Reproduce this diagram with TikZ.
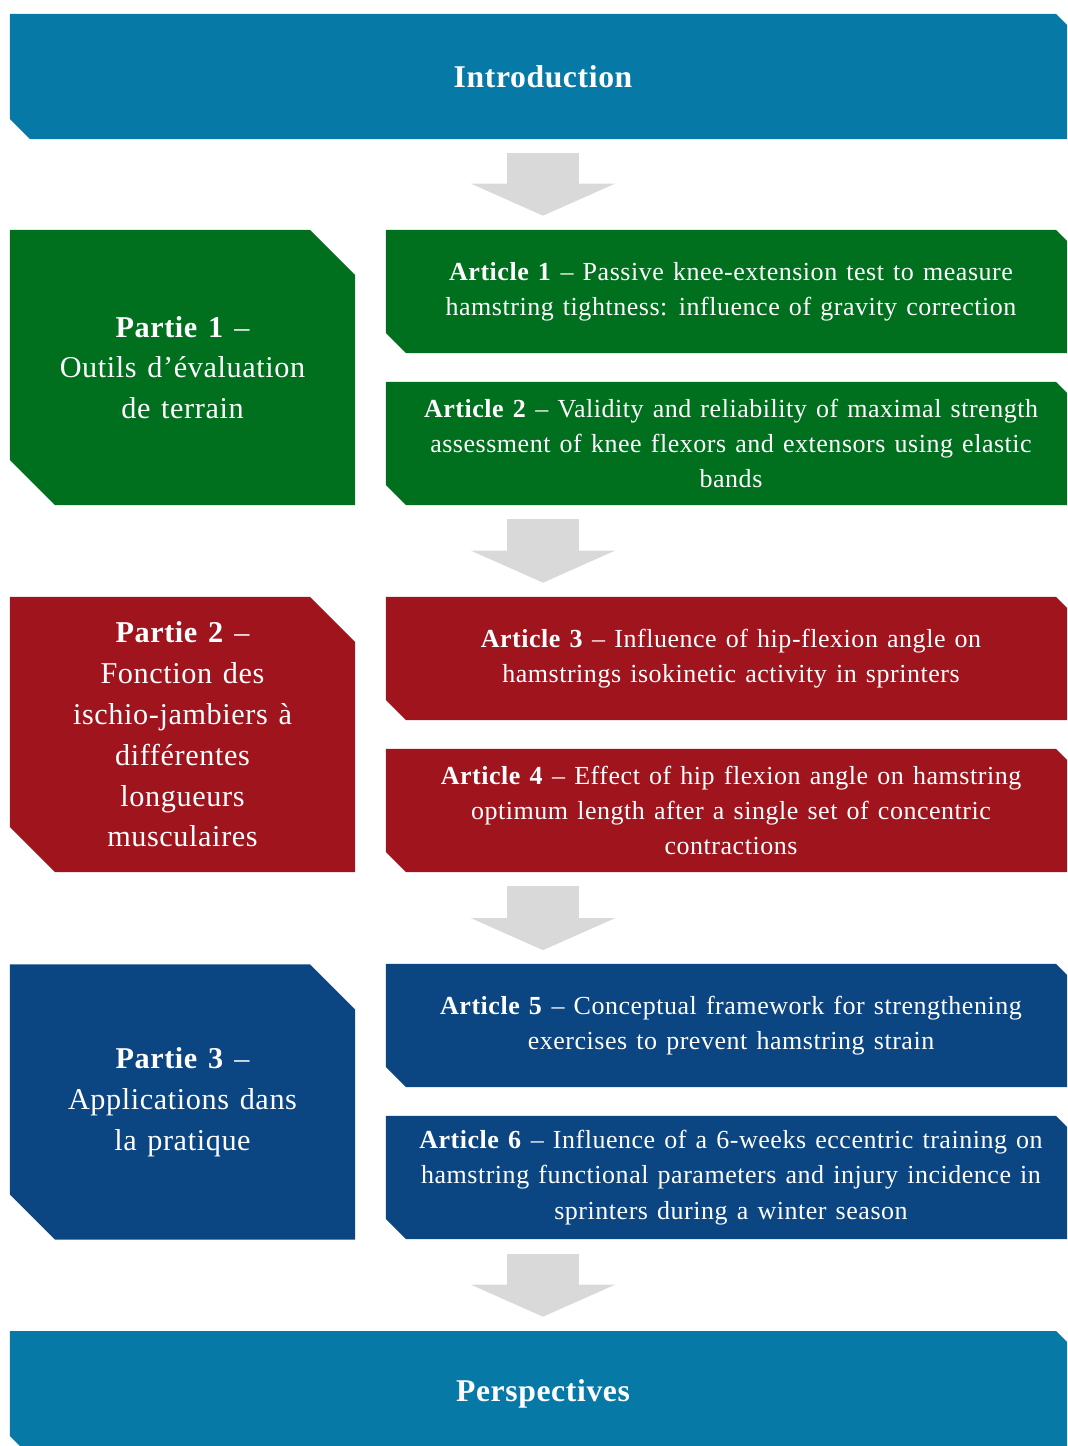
\documentclass[tikz,border=0pt]{standalone}
\usepackage{fontspec}
\setmainfont{Liberation Serif}[LetterSpace=2,WordSpace=1.3]
\usetikzlibrary{arrows.meta,positioning}

\definecolor{introblue}{HTML}{0779A6}
\definecolor{partgreen}{HTML}{00701E}
\definecolor{partred}{HTML}{A0141E}
\definecolor{partblue}{HTML}{0B4582}
\definecolor{flowgray}{HTML}{D9D9D9}

\tikzset{
  snipbox/.style 2 args={inner sep=0pt, text=white, align=center,
    path picture={\fill[#1] (path picture bounding box.north west)
      -- ([xshift=-#2]path picture bounding box.north east)
      -- ([yshift=-#2]path picture bounding box.north east)
      -- (path picture bounding box.south east)
      -- ([xshift=#2]path picture bounding box.south west)
      -- ([yshift=#2]path picture bounding box.south west) -- cycle;}},
  endbox/.style={snipbox={introblue}{0.5cm}, minimum width=26.65cm, minimum height=3.125cm,
    font=\fontsize{22.5}{26}\selectfont\bfseries},
  partbox/.style={snipbox={#1}{1.125cm}, minimum width=8.625cm, minimum height=6.875cm,
    font=\fontsize{21.5}{29}\selectfont},
  artbox/.style={snipbox={#1}{0.5cm}, minimum width=17.25cm, minimum height=3.075cm,
    font=\fontsize{18.5}{25}\selectfont},
  flow/.style={flowgray, line width=1.8cm, -{Triangle[width=3.6cm,length=0.8cm,line width=0pt]}}
}

\begin{document}
\begin{tikzpicture}[x=0.025cm,y=-0.025cm]
\clip (0,0) rectangle (1067,1446);

\node[endbox] (intro) at (543,76.5) {Introduction};

% Partie 1
\node[partbox=partgreen] (P1) at (182.5,367.5) {\textbf{Partie 1} --\\ Outils d’évaluation\\ de terrain};
\node[artbox=partgreen] (A1) at ([shift={+(548.5,-76)}]P1) {\textbf{Article 1} -- Passive knee-extension test to measure\\ hamstring tightness: influence of gravity correction};
\node[artbox=partgreen] (A2) at ([shift={+(0,152)}]A1) {\textbf{Article 2} -- Validity and reliability of maximal strength\\ assessment of knee flexors and extensors using elastic\\ bands};

% Partie 2
\node[partbox=partred] (P2) at ([shift={+(0,367)}]P1) {\textbf{Partie 2} --\\ Fonction des\\ ischio-jambiers à\\ différentes\\ longueurs\\ musculaires};
\node[artbox=partred] (A3) at ([shift={+(548.5,-76)}]P2) {\textbf{Article 3} -- Influence of hip-flexion angle on\\ hamstrings isokinetic activity in sprinters};
\node[artbox=partred] (A4) at ([shift={+(0,152)}]A3) {\textbf{Article 4} -- Effect of hip flexion angle on hamstring\\ optimum length after a single set of concentric\\ contractions};

% Partie 3
\node[partbox=partblue] (P3) at ([shift={+(0,367.5)}]P2) {\textbf{Partie 3} --\\ Applications dans\\ la pratique};
\node[artbox=partblue] (A5) at ([shift={+(548.5,-76.5)}]P3) {\textbf{Article 5} -- Conceptual framework for strengthening\\ exercises to prevent hamstring strain};
\node[artbox=partblue] (A6) at ([shift={+(0,152)}]A5) {\textbf{Article 6} -- Influence of a 6-weeks eccentric training on\\ hamstring functional parameters and injury incidence in\\ sprinters during a winter season};

\node[endbox] (persp) at (543,1393.5) {Perspectives};

\draw[flow] ([yshift=-0.35cm]intro.south) -- ([yshift=0.35cm]intro.south |- P1.north);
\draw[flow] ([yshift=-0.35cm]intro.south |- P1.south) -- ([yshift=0.35cm]intro.south |- P2.north);
\draw[flow] ([yshift=-0.35cm]intro.south |- P2.south) -- ([yshift=0.35cm]intro.south |- P3.north);
\draw[flow] ([yshift=-0.35cm]intro.south |- P3.south) -- ([yshift=0.35cm]persp.north);
\end{tikzpicture}
\end{document}
